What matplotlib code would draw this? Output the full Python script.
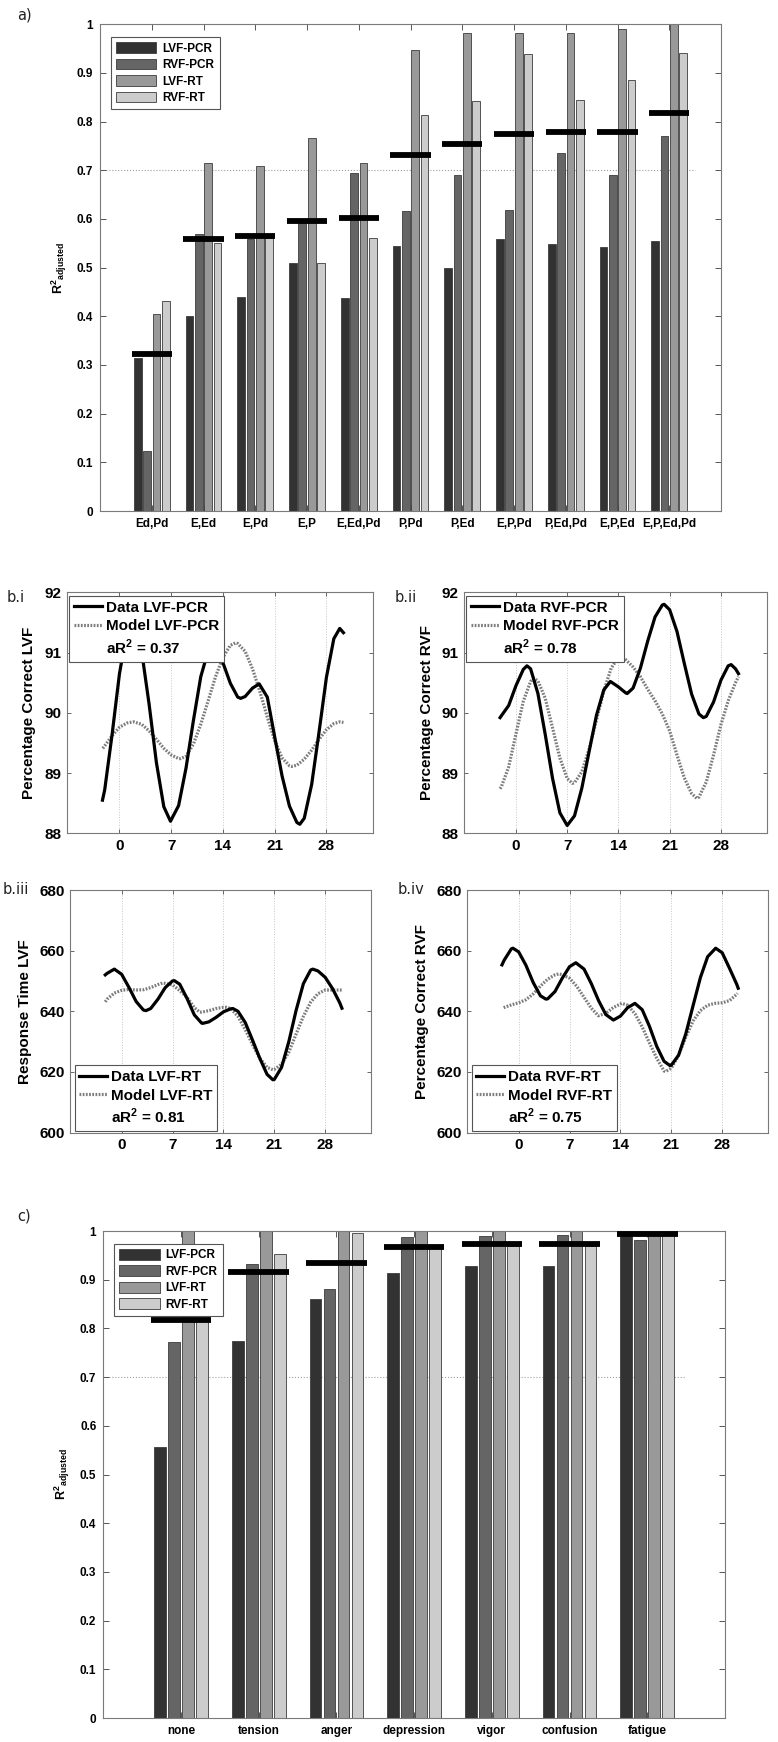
import numpy as np
import matplotlib
matplotlib.use("Agg")
import matplotlib.pyplot as plt

plt.rcParams['font.family'] = ['Liberation Sans', 'DejaVu Sans']
plt.rcParams['font.weight'] = 'bold'
plt.rcParams['axes.labelweight'] = 'bold'
plt.rcParams['mathtext.fontset'] = 'custom'
plt.rcParams['mathtext.rm'] = 'Liberation Sans'
plt.rcParams['mathtext.bf'] = 'Liberation Sans:bold'

W, H = 778, 1742

# ---- panel a data ----
series_names = ['LVF-PCR', 'RVF-PCR', 'LVF-RT', 'RVF-RT']
groups_a = ['Ed,Pd', 'E,Ed', 'E,Pd', 'E,P', 'E,Ed,Pd', 'P,Pd', 'P,Ed',
            'E,P,Pd', 'P,Ed,Pd', 'E,P,Ed', 'E,P,Ed,Pd']
lvf_pcr_a = [0.315, 0.40, 0.44, 0.51, 0.437, 0.545, 0.50, 0.558, 0.548, 0.543, 0.555]
rvf_pcr_a = [0.123, 0.569, 0.558, 0.592, 0.694, 0.616, 0.69, 0.618, 0.736, 0.69, 0.771]
lvf_rt_a = [0.405, 0.715, 0.708, 0.767, 0.715, 0.947, 0.982, 0.982, 0.982, 0.99, 1.0]
rvf_rt_a = [0.431, 0.55, 0.56, 0.51, 0.56, 0.813, 0.842, 0.938, 0.845, 0.886, 0.941]
combined_a = [0.322, 0.558, 0.566, 0.596, 0.601, 0.731, 0.754, 0.774, 0.778, 0.778, 0.817]

# ---- panel c data ----
groups_c = ['none', 'tension', 'anger', 'depression', 'vigor', 'confusion', 'fatigue']
lvf_pcr_c = [0.556, 0.774, 0.86, 0.913, 0.928, 0.929, 0.995]
rvf_pcr_c = [0.772, 0.932, 0.881, 0.987, 0.99, 0.991, 0.982]
lvf_rt_c = [1.0, 1.0, 1.0, 1.0, 1.0, 1.0, 1.0]
rvf_rt_c = [0.93, 0.953, 0.995, 0.965, 0.97, 0.97, 1.0]
combined_c = [0.817, 0.915, 0.934, 0.968, 0.974, 0.974, 0.994]

# ---- panel b data (day, value) ----
bi_data_x = [-2.3, -2, -1, 0, 1, 1.7, 2, 3, 4, 5, 6, 6.9, 8, 9, 10, 11, 12, 12.55, 13, 14,
             15, 16, 16.4, 17, 18, 18.9, 20, 21, 22, 23, 24, 24.4, 25, 26, 27, 28, 29, 29.8, 30.3]
bi_data_y = [88.55, 88.72, 89.64, 90.65, 91.34, 91.5, 91.47, 91.02, 90.15, 89.17, 88.44, 88.2,
             88.46, 89.08, 89.87, 90.6, 91.03, 91.1, 91.07, 90.83, 90.49, 90.26, 90.24, 90.27,
             90.41, 90.48, 90.26, 89.6, 88.95, 88.45, 88.18, 88.15, 88.25, 88.81, 89.68, 90.59,
             91.23, 91.4, 91.33]
bi_model_x = [-2.26, -2, -1, 0, 1, 1.9, 3, 4, 5, 6, 7, 8, 8.3, 9, 10, 11, 12, 13, 14, 15, 15.7,
              16, 17, 18, 19, 20, 21, 22, 23, 23.3, 24, 25, 26, 27, 28, 29, 29.8, 30.3]
bi_model_y = [89.41, 89.45, 89.62, 89.76, 89.83, 89.85, 89.81, 89.70, 89.56, 89.41, 89.30,
              89.24, 89.24, 89.28, 89.48, 89.81, 90.2, 90.6, 90.92, 91.12, 91.16, 91.15, 91.02,
              90.73, 90.35, 89.93, 89.54, 89.25, 89.12, 89.11, 89.13, 89.23, 89.38, 89.56,
              89.72, 89.82, 89.85, 89.84]

bii_data_x = [-2.17, -2, -1, 0, 1, 1.5, 2, 3, 4, 5, 6, 7, 8, 9, 10, 11, 12, 12.9, 14, 15, 15.2,
              16, 17, 18, 19, 20, 20.25, 21, 22, 23, 24, 25, 25.6, 26, 27, 28, 29, 29.4, 30, 30.4]
bii_data_y = [89.92, 89.95, 90.12, 90.45, 90.72, 90.78, 90.73, 90.32, 89.64, 88.91, 88.34,
              88.13, 88.29, 88.75, 89.36, 89.96, 90.38, 90.52, 90.43, 90.33, 90.32, 90.41,
              90.74, 91.19, 91.59, 91.79, 91.8, 91.71, 91.35, 90.82, 90.31, 89.98, 89.92,
              89.94, 90.18, 90.54, 90.78, 90.8, 90.73, 90.65]
bii_model_x = [-2.17, -2, -1, 0, 1, 2, 2.5, 3, 4, 5, 6, 7, 7.7, 8, 9, 10, 11, 12, 13, 14, 14.3,
               15, 16, 17, 18, 19, 20, 21, 22, 23, 24, 24.7, 25, 26, 27, 28, 29, 30, 30.4]
bii_model_y = [88.74, 88.77, 89.1, 89.65, 90.19, 90.52, 90.57, 90.53, 90.24, 89.75, 89.25,
               88.91, 88.83, 88.84, 89.02, 89.4, 89.88, 90.36, 90.74, 90.92, 90.93, 90.88,
               90.76, 90.6, 90.39, 90.2, 89.98, 89.7, 89.3, 88.92, 88.66, 88.58, 88.6, 88.85,
               89.3, 89.8, 90.2, 90.5, 90.6]

biii_data_x = [-2.25, -2, -1, 0, 1, 2, 3, 3.35, 4, 5, 6, 7, 7.25, 8, 9, 10, 11, 11.15, 12, 13,
               14, 15, 15.3, 16, 17, 18, 19, 20, 20.8, 21, 22, 23, 24, 25, 26, 26.3, 27, 28, 29,
               30, 30.3]
biii_data_y = [652.0, 652.5, 653.9, 652.2, 647.9, 643.2, 640.4, 640.2, 640.9, 644.0, 647.8,
               650.0, 650.1, 648.9, 644.2, 638.8, 636.1, 636.0, 636.5, 638.0, 639.8, 640.8,
               640.9, 640.0, 636.3, 630.5, 624.5, 619.2, 617.4, 617.5, 621.5, 630.0, 640.3,
               649.1, 653.6, 653.9, 653.3, 651.2, 647.5, 642.8, 641.0]
biii_model_x = [-2.25, -2, -1, 0, 1, 2, 3, 4, 5, 5.6, 6, 7, 8, 9, 10, 10.7, 11, 12, 13, 14,
                14.4, 15, 16, 17, 18, 19, 20, 20.8, 21, 22, 23, 24, 25, 26, 27, 28, 29, 30, 30.3]
biii_model_y = [643.1, 644.0, 646.0, 646.9, 647.2, 647.0, 647.1, 647.8, 648.8, 649.3, 649.2,
                648.7, 646.8, 644.6, 641.2, 639.8, 639.7, 640.2, 640.9, 641.3, 641.3, 640.9,
                638.3, 634.0, 629.0, 624.5, 621.5, 620.7, 620.8, 622.5, 626.5, 632.5, 638.3,
                643.0, 645.8, 647.0, 647.0, 647.0, 647.0]

biv_data_x = [-2.29, -2, -1, -0.78, 0, 1, 2, 3, 3.75, 4, 5, 6, 7, 7.87, 9, 10, 11, 12, 13.04,
              14, 15, 16, 17, 18, 19, 20, 20.8, 21, 22, 23, 24, 25, 26, 27.1, 28, 29, 30, 30.2]
biv_data_y = [655.3, 656.8, 660.6, 660.8, 659.6, 655.2, 649.5, 645.1, 644.0, 644.1, 646.5,
              650.9, 654.7, 656.0, 653.9, 649.1, 643.5, 638.9, 637.1, 638.4, 641.2, 642.6,
              640.5, 635.0, 628.4, 623.5, 622.1, 622.2, 625.5, 632.6, 641.9, 651.1, 658.0,
              660.8, 659.3, 654.2, 648.9, 647.6]
biv_model_x = [-2.06, -1, 0, 1, 2, 3, 4, 5, 5.49, 6, 7, 8, 9, 10, 10.98, 12, 13, 14.18, 15, 16,
               17, 18, 19, 20, 20.2, 21, 22, 23, 24, 25, 26, 27, 28, 29, 30, 30.1]
biv_model_y = [641.2, 642.1, 642.8, 643.8, 645.7, 648.3, 650.6, 652.0, 652.3, 652.1, 650.9,
               648.2, 644.6, 641.0, 638.5, 639.3, 641.2, 642.6, 642.0, 639.2, 634.8, 629.5,
               624.5, 620.3, 620.1, 621.2, 625.5, 631.5, 636.8, 640.2, 642.0, 642.6, 642.8,
               643.5, 645.6, 645.9]

bar_colors = ['#323232', '#656565', '#999999', '#cccccc']
spine_col = '#7a7a7a'


def px_axes(fig, l, t, r, b):
    return fig.add_axes([l / W, 1 - b / H, (r - l) / W, (b - t) / H])


def style_box(ax):
    for s in ax.spines.values():
        s.set_color(spine_col)
        s.set_linewidth(0.8)


def bar_panel(ax, groups, series, combined):
    n = len(groups)
    x = np.arange(1, n + 1)
    offs = [-0.27, -0.09, 0.09, 0.27]
    for k in range(4):
        ax.bar(x + offs[k], series[k], width=0.15, color=bar_colors[k],
               edgecolor='#3c3c3c', linewidth=0.6, label=series_names[k], zorder=2)
    ax.hlines(combined, x - 0.39, x + 0.39, colors='black', linewidth=4.2, zorder=3)
    ax.plot([0, n + 0.5], [0.7, 0.7], ls=':', color='#a0a0a0', lw=0.8, zorder=1)
    ax.set_xlim(0, n + 1)
    ax.set_ylim(0, 1)
    ax.set_xticks(x)
    ax.set_xticklabels(groups, fontsize=8.5)
    yt = np.round(np.arange(0, 1.01, 0.1), 1)
    ax.set_yticks(yt)
    ax.set_yticklabels(['%g' % v for v in yt], fontsize=8.5)
    ax.tick_params(direction='in', top=True, right=True, length=4, width=0.7,
                   color='#555555', pad=5)
    style_box(ax)
    ax.set_ylabel(r'$\mathbf{R}^{\mathbf{2}}{}_{\mathbf{adjusted}}$', fontsize=9)
    ax.yaxis.set_label_coords(-0.05, 0.5)
    leg = ax.legend(loc='upper left', bbox_to_anchor=(0.008, 0.986), fontsize=8.5,
                    handlelength=3.4, handleheight=1.0, labelspacing=0.35, borderpad=0.45,
                    handletextpad=0.5, fancybox=False, framealpha=1, edgecolor='#555555')
    leg.get_frame().set_linewidth(0.8)


def curve_panel(ax, xd, yd, xm, ym, tag, r2, ylim, yticks, ylabel, loc, labx):
    ax.plot(xd, yd, color='black', lw=2.3, solid_joinstyle='round', label='Data ' + tag, zorder=3)
    ax.plot(xm, ym, color='#7c7c7c', lw=2.3, ls=(0, (0.55, 0.45)), label='Model ' + tag, zorder=2)
    ax.plot([], [], color='none', label=r'aR$^{\mathbf{2}}$ = ' + r2)
    ax.set_xlim(-7.1, 34.3)
    ax.set_ylim(*ylim)
    ax.set_xticks([0, 7, 14, 21, 28])
    ax.set_yticks(yticks)
    ax.grid(axis='x', ls=':', color='#c4c4c4', lw=0.7)
    ax.tick_params(direction='in', top=True, right=True, length=3, width=0.7,
                   color='#666666', labelsize=11, pad=4)
    style_box(ax)
    ax.set_ylabel(ylabel, fontsize=11)
    ax.yaxis.set_label_coords(labx, 0.5)
    if loc == 'upper left':
        anchor = (0.003, 0.99)
    else:
        anchor = (0.01, 0.0)
    leg = ax.legend(loc=loc, bbox_to_anchor=anchor, fontsize=11, handlelength=1.8,
                    handletextpad=0.3, labelspacing=0.3, borderpad=0.3, borderaxespad=0.1,
                    fancybox=False, framealpha=1, edgecolor='#555555')
    leg.get_frame().set_linewidth(0.8)


fig = plt.figure(figsize=(W / 100, H / 100), dpi=100)

ax_a = px_axes(fig, 100, 24.3, 721, 511)
bar_panel(ax_a, groups_a, [lvf_pcr_a, rvf_pcr_a, lvf_rt_a, rvf_rt_a], combined_a)

ax_bi = px_axes(fig, 67, 592.3, 373, 833.3)
curve_panel(ax_bi, bi_data_x, bi_data_y, bi_model_x, bi_model_y, 'LVF-PCR', '0.37',
            (88, 92), [88, 89, 90, 91, 92], 'Percentage Correct LVF', 'upper left', -0.10)
ax_bii = px_axes(fig, 464, 592.3, 767, 833.3)
curve_panel(ax_bii, bii_data_x, bii_data_y, bii_model_x, bii_model_y, 'RVF-PCR', '0.78',
            (88, 92), [88, 89, 90, 91, 92], 'Percentage Correct RVF', 'upper left', -0.10)
ax_biii = px_axes(fig, 70, 890, 371, 1132.5)
curve_panel(ax_biii, biii_data_x, biii_data_y, biii_model_x, biii_model_y, 'LVF-RT', '0.81',
            (600, 680), [600, 620, 640, 660, 680], 'Response Time LVF', 'lower left', -0.125)
ax_biv = px_axes(fig, 467, 890, 768, 1132.5)
curve_panel(ax_biv, biv_data_x, biv_data_y, biv_model_x, biv_model_y, 'RVF-RT', '0.75',
            (600, 680), [600, 620, 640, 660, 680], 'Percentage Correct RVF', 'lower left', -0.125)

ax_c = px_axes(fig, 103.3, 1231, 725, 1718)
bar_panel(ax_c, groups_c, [lvf_pcr_c, rvf_pcr_c, lvf_rt_c, rvf_rt_c], combined_c)

# panel tags
for txt, xp, yp in [('a)', 17, 15), ('b.i', 7, 597), ('b.ii', 395, 597),
                    ('b.iii', 3, 890), ('b.iv', 398, 890), ('c)', 17, 1216)]:
    fig.text(xp / W, 1 - yp / H, txt, fontsize=10.5, fontweight='normal',
             family='DejaVu Sans', va='center', ha='left', color='#222222')

fig.savefig('out.png', dpi=100)
